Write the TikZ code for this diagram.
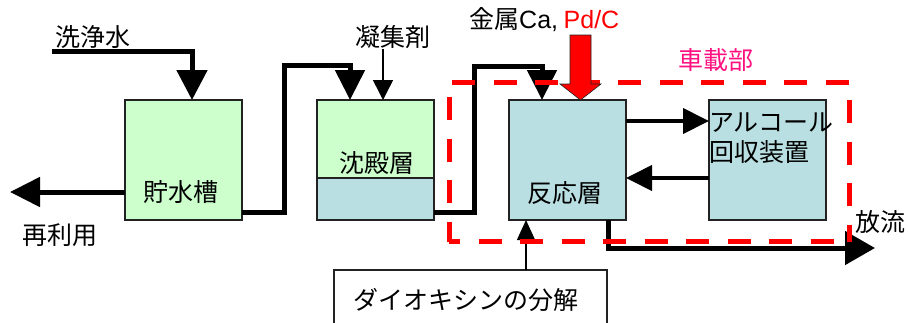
\documentclass[tikz,border=0pt]{standalone}
\usepackage{fontspec}
\setmainfont{Noto Sans CJK JP}
\newfontfamily\latinf{Liberation Sans}
\usetikzlibrary{arrows.meta}
\definecolor{lgreen}{HTML}{CCFFCC}
\definecolor{lblue}{HTML}{B9DFE2}
\definecolor{bord}{HTML}{222222}
\definecolor{pinkred}{HTML}{FF1080}
\tikzset{
  box/.style={draw=bord, line width=1.3pt, minimum height=120pt, minimum width=117pt, anchor=north west, inner sep=0pt, outer sep=0pt},
  lbl/.style={inner sep=0pt, font=\fontsize{25pt}{30pt}\selectfont},
  thk/.style={line width=5pt, line join=miter},
  med/.style={line width=4pt},
  thn/.style={line width=1.5pt},
  reddash/.style={red, line width=5pt, dash pattern=on 23pt off 18.5pt},
}
\begin{document}
\begin{tikzpicture}[x=1pt, y=-1pt]
\clip (0,0) rectangle (908,322);
\fill[white] (0,0) rectangle (908,322);

% boxes
\node[box, fill=lgreen] (tank) at (125,100) {};
\node[box] (sed) at (317,100) {};
\fill[lgreen] (317,100) rectangle (434,178);
\fill[lblue] (317,178) rectangle (434,220);
\draw[bord, line width=1.3pt] (317,100) rectangle (434,220);
\draw[bord, line width=1.3pt] (317,178) -- (434,178);
\node[box, fill=lblue] (react) at (509,100) {};
\node[box, fill=lblue] (alc) at (709,100) {};
\node[draw=bord, line width=1.5pt, minimum width=273pt, minimum height=80pt, anchor=north west, inner sep=0pt, outer sep=0pt] (diox) at (334,270) {};

% texts
\node[lbl] (wash) at (93,37) {洗浄水};
\node[lbl] (reuse) at (60,235) {再利用};
\node[lbl] (tankt) at (181,192) {貯水槽};
\node[lbl] (floc) at (393,37) {凝集剤};
\node[lbl] (sedt) at (377,163) {沈殿層};
\node[lbl, anchor=west] (metal) at (469,20) {金属{\latinf Ca,} \textcolor{red}{\latinf Pd/C}};
\node[lbl, text=pinkred] (onboard) at (716,60) {車載部};
\node[lbl] (reactt) at (565,193) {反応層};
\node[lbl, anchor=north west, align=left] (alct) at (709,113) {アルコール\\回収装置};
\node[lbl] (release) at (880,222) {放流};
\node[lbl] (dioxt) at (466,300) {ダイオキシンの分解};

% connectors
\coordinate (wsrc) at (52,51);
\draw[thk, -{Triangle[width=30pt,length=30pt]}] (wsrc) -| ([xshift=8.5pt]tank.north);
\coordinate (reuseend) at (10,192);
\draw[thk, -{Triangle[width=29pt,length=30pt]}] (tank.west |- reuseend) -- (reuseend);
\draw[thk, -{Triangle[width=29pt,length=30pt]}] (tank.east |- 0,212) -| (284,65) -| ([xshift=-25.5pt]sed.north);
\draw[thn, -{Triangle[width=20pt,length=20pt]}] ([xshift=-10pt]floc.south) -- ([xshift=7.5pt]sed.north);
\draw[thk, -{Triangle[width=29pt,length=30pt]}] (sed.east |- 0,212) -| (474,66) -| ([xshift=-25.5pt]react.north);
\draw[med, -{Triangle[width=25pt,length=26pt]}] (react.east |- 0,121) -- (alc.west |- 0,121);
\draw[med, -{Triangle[width=25pt,length=26pt]}] (alc.west |- 0,178) -- (react.east |- 0,178);
\draw[thk, -{Triangle[width=33pt,length=30pt]}] (react.south -| 608,0) |- (875,248);
\draw[thn, -{Triangle[width=18pt,length=20pt]}] (diox.north -| 526,0) -- (react.south -| 526,0);

% dashed onboard region
\draw[reddash] (452,82) -- (849,82);
\draw[reddash] (849,100) -- (849,242);
\draw[reddash, dash phase=12pt] (449,241.5) -- (849,241.5);
\draw[reddash] (449,97) -- (449,241.5);

% red arrow
\draw[fill=red, draw=bord, line width=0.6pt] (570,35) -- (591,35) -- (591,84) -- (601,84) -- ([xshift=13pt]react.north) -- (560,84) -- (570,84) -- cycle;
\end{tikzpicture}
\end{document}
